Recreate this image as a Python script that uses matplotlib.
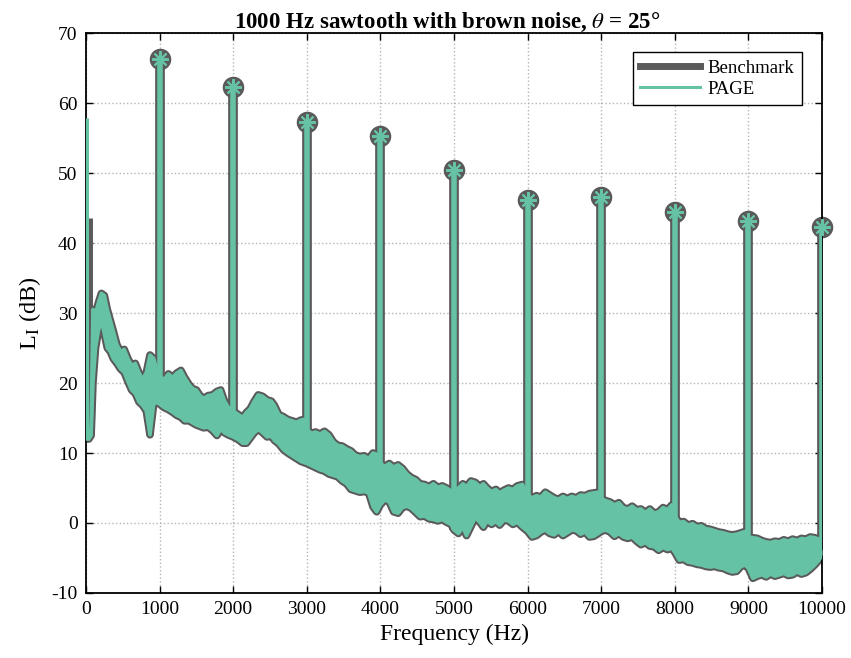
"""Spectrum of a 1000 Hz sawtooth in brown noise: Benchmark vs PAGE."""

import matplotlib

matplotlib.use("Agg")
import matplotlib.pyplot as plt
from matplotlib.lines import Line2D

freq_hz = [
    0, 40, 70, 95, 130, 170, 210, 250, 290, 330, 370, 420, 470, 520, 570, 620,
    670, 720, 770, 820, 870, 920, 960, 1000, 1060, 1120, 1180, 1230, 1290, 1340,
    1400, 1450, 1500, 1550, 1600, 1660, 1720, 1780, 1830, 1880, 1930, 2000, 2070,
    2130, 2180, 2230, 2280, 2340, 2400, 2460, 2520, 2560, 2620, 2680, 2740, 2800,
    2860, 2920, 2970, 3000, 3060, 3120, 3180, 3240, 3300, 3360, 3420, 3480, 3540,
    3600, 3660, 3720, 3780, 3840, 3900, 3950, 4000, 4060, 4120, 4180, 4240, 4300,
    4360, 4420, 4480, 4540, 4600, 4660, 4720, 4780, 4840, 4900, 4960, 5000, 5060,
    5120, 5170, 5230, 5290, 5350, 5400, 5450, 5510, 5570, 5620, 5680, 5740, 5800,
    5860, 5930, 6000, 6060, 6120, 6180, 6240, 6300, 6360, 6420, 6480, 6540, 6600,
    6660, 6720, 6780, 6840, 6900, 6960, 7000, 7060, 7120, 7180, 7240, 7300, 7360,
    7420, 7480, 7540, 7600, 7660, 7720, 7780, 7840, 7900, 7960, 8000, 8060, 8120,
    8180, 8240, 8300, 8360, 8420, 8480, 8540, 8600, 8660, 8720, 8780, 8840, 8900,
    8960, 9000, 9060, 9120, 9180, 9240, 9300, 9360, 9420, 9480, 9540, 9600, 9660,
    9720, 9780, 9840, 9900, 9960, 10000,
]
upper_db = [
    13, 13, 13.5, 30.5, 30, 31.5, 32.8, 32.5, 30.5, 29, 27.5, 25.5, 24.5, 24.8,
    23.5, 22.5, 22.8, 21.5, 20.5, 21.5, 24, 23.5, 22, 21, 20.5, 21.3, 20.8, 21.4,
    21.8, 20.8, 19.8, 19.2, 19, 18.2, 17.8, 18.2, 18.3, 18.8, 19, 17.5, 16.6, 16,
    15.5, 15.1, 15.8, 16.3, 17.3, 18.3, 18.1, 17.6, 17.4, 16.8, 15.5, 15.2, 14.8,
    14.6, 14.4, 14.7, 14.8, 13.5, 12.8, 13, 12.7, 13.1, 12.6, 11.6, 11.1, 11,
    10.6, 10.3, 9.7, 9.5, 9.6, 9.2, 10, 9.8, 8.5, 8.1, 8.5, 8.0, 8.3, 7.8, 7.0,
    6.5, 6.2, 5.6, 5.5, 5.2, 5.6, 5.1, 5.3, 5.0, 4.6, 4.5, 5.0, 5.6, 5.2, 6.0,
    5.8, 5.2, 5.6, 5.0, 4.5, 4.8, 4.3, 4.7, 5.0, 4.8, 5.3, 5.5, 4.0, 3.6, 3.9,
    3.7, 4.4, 4.0, 3.6, 3.4, 3.8, 3.5, 3.8, 3.6, 4.0, 3.9, 4.2, 4.3, 4.4, 3.5,
    3.2, 3.0, 2.6, 2.9, 2.2, 2.0, 2.4, 1.9, 2.0, 1.5, 2.0, 1.4, 1.6, 2.2, 1.9,
    2.6, 1.0, 0.1, 0.2, -0.3, -0.1, -0.5, -0.4, -0.8, -0.9, -1.1, -1.3, -1.4,
    -1.6, -1.7, -1.6, -1.4, -1.2, -2.0, -2.1, -2.2, -2.5, -2.7, -2.8, -2.6, -2.7,
    -2.4, -2.6, -2.3, -2.5, -2.2, -2.3, -2.0, -2.1, -2.3, -4,
]
lower_db = [
    12, 12, 12.5, 20, 25, 27.5, 29, 27, 25, 24.5, 23.5, 22.8, 22, 21.5, 20.2, 19,
    18.5, 17.3, 16.8, 16, 12.6, 17, 17.2, 17, 16.5, 16.2, 15.8, 15.4, 15.1, 14.6,
    14.6, 14.3, 14.0, 13.8, 13.6, 13.7, 13.2, 12.5, 13.4, 12.9, 12.6, 12.3, 11.9,
    11.4, 11.4, 12.1, 12.8, 13.4, 12.9, 12.3, 12.4, 11.8, 11.3, 10.5, 10.0, 9.6,
    9.2, 8.8, 8.6, 8.5, 8.2, 7.9, 7.6, 7.4, 7.0, 6.8, 6.6, 6.0, 5.6, 4.8, 4.6,
    4.4, 4.5, 4.3, 2.3, 1.6, 2.6, 3.3, 3.0, 1.6, 1.4, 2.2, 2.4, 2.1, 1.5, 0.9,
    1.0, 0.6, 0.5, 0.3, 0.5, 0.1, -0.2, -1.0, -1.5, -0.6, -1.8, -0.5, 0.8, 0.1,
    -0.6, 0.3, -0.2, 0.2, -0.3, 0.4, 0.3, -0.2, 0.1, -0.6, -1.2, -2.0, -1.8,
    -1.3, -1.0, -1.5, -1.7, -1.2, -1.8, -1.4, -1.0, -1.1, -1.6, -1.3, -2.0, -1.9,
    -1.5, -1.2, -1.0, -1.3, -1.9, -1.5, -2.0, -2.2, -2.0, -2.6, -3.1, -2.8, -3.3,
    -3.4, -3.9, -3.5, -3.8, -3.6, -4.2, -5.3, -5.2, -5.6, -5.7, -5.9, -6.0, -6.2,
    -6.3, -6.2, -6.4, -6.5, -6.8, -7.0, -6.9, -6.2, -6.0, -6.5, -7.9, -7.6, -7.4,
    -7.7, -7.3, -7.6, -7.4, -7.2, -7.5, -7.4, -7.0, -7.3, -7.1, -6.6, -6.0, -5.3,
    -4.5,
]

# harmonic peaks
harmonic_hz = [1000, 2000, 3000, 4000, 5000, 6000, 7000, 8000, 9000, 10000]
bench_peak_db = [66.3, 62.3, 57.3, 55.3, 50.4, 46.1, 46.6, 44.4, 43.1, 42.3]
page_peak_db = [66.3, 62.3, 57.3, 55.3, 50.4, 46.1, 46.6, 44.4, 43.1, 42.3]
stem_base_db = [17, 12.3, 8.5, 2.6, -1.0, -1.2, -1.2, -4.2, -6.5, -4.5]

# spike next to 0 Hz
bench_dc_hz = [35]
page_dc_hz = [15]
dc_base_db = [12]
bench_dc_db = [43.6]
page_dc_db = [57.9]

DARK = "#5a5a5a"
TEAL = "#66c2a5"

plt.rcParams["font.family"] = ["Liberation Serif", "DejaVu Serif"]
plt.rcParams["mathtext.fontset"] = "stix"
plt.rcParams["axes.unicode_minus"] = False

fig = plt.figure(figsize=(8.51, 6.58), dpi=100)
ax = fig.add_axes([0.101, 0.0988, 0.865, 0.851])

# Benchmark
ax.plot(freq_hz, upper_db, color=DARK, lw=5.5, zorder=2, solid_joinstyle="round")
ax.plot(freq_hz, lower_db, color=DARK, lw=5.5, zorder=2, solid_joinstyle="round")
ax.vlines(harmonic_hz, stem_base_db, bench_peak_db, color=DARK, lw=7.0, zorder=2)
ax.vlines(bench_dc_hz, dc_base_db, bench_dc_db, color=DARK, lw=5.0, zorder=2)
ax.plot(harmonic_hz, bench_peak_db, "o", color=DARK, ms=14.5, zorder=2.5, clip_on=False)

# PAGE
ax.fill_between(freq_hz, lower_db, upper_db, color=TEAL, lw=0, zorder=3)
ax.plot(freq_hz, upper_db, color=TEAL, lw=2.6, zorder=3)
ax.plot(freq_hz, lower_db, color=TEAL, lw=2.6, zorder=3)
ax.vlines(harmonic_hz, stem_base_db, page_peak_db, color=TEAL, lw=4.0, zorder=3)
ax.vlines(page_dc_hz, dc_base_db, page_dc_db, color=TEAL, lw=2.2, zorder=3)
ax.plot(harmonic_hz, page_peak_db, marker=(8, 2, 0), ls="none", color=TEAL,
        ms=12, mew=1.5, zorder=4, clip_on=False)

ax.set_xlim(0, 10000)
ax.set_ylim(-10, 70)
ax.set_xticks(range(0, 10001, 1000))
ax.set_yticks(range(-10, 71, 10))
ax.tick_params(direction="in", top=True, right=True, length=5, width=1,
               labelsize=14, pad=6)
ax.grid(True, linestyle=":", color="#b5b5b5", lw=1.0)
ax.set_axisbelow(True)
for spine in ax.spines.values():
    spine.set_linewidth(1.3)

ax.set_xlabel("Frequency (Hz)", fontsize=17, labelpad=4)
ax.set_ylabel(r"L$_\mathrm{I}$ (dB)", fontsize=17.5, labelpad=6)
ax.set_title(r"1000 Hz sawtooth with brown noise, $\theta$ = 25°",
             fontsize=16.5, fontweight="bold", pad=4, x=0.49)

handles = [
    Line2D([], [], color=DARK, lw=5),
    Line2D([], [], color=TEAL, lw=2.2),
]
leg = ax.legend(handles, ["Benchmark", "PAGE"], loc="upper right",
                bbox_to_anchor=(0.973, 0.966), borderaxespad=0, fontsize=13.5,
                handlelength=3.2, handletextpad=0.4, labelspacing=0.2,
                borderpad=0.4, fancybox=False, framealpha=1)
leg.get_frame().set_edgecolor("black")
leg.get_frame().set_linewidth(1.0)

fig.savefig("out.png", dpi=100)
